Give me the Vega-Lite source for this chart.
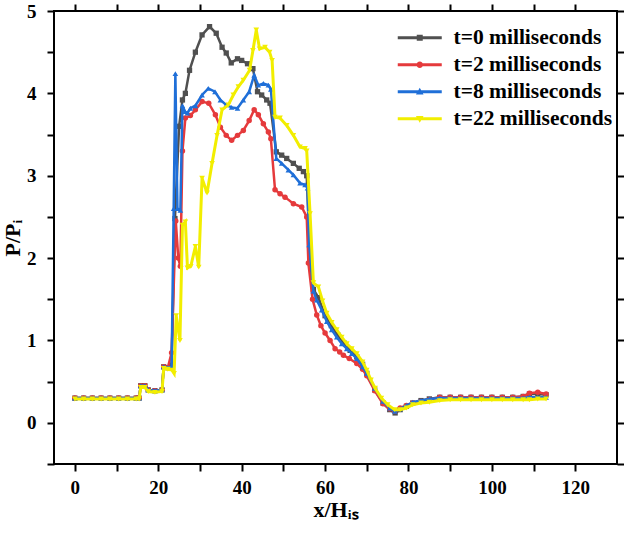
{
  "$schema": "https://vega.github.io/schema/vega-lite/v6.json",
  "width": 563,
  "height": 453,
  "autosize": {"type": "none"},
  "padding": {"left": 54, "top": 11, "right": 7, "bottom": 69},
  "background": "white",
  "config": {
    "view": {"stroke": "#000", "strokeWidth": 2},
    "axis": {"domain": false, "grid": false, "ticks": true, "tickColor": "#000", "tickWidth": 2, "tickSize": 7, "tickOpacity": 1,
      "labelFont": "Liberation Serif", "labelFontWeight": "bold", "labelFontSize": 19, "labelColor": "#000",
      "titleFont": "Liberation Serif", "titleFontWeight": "bold", "titleFontSize": 22, "titleColor": "#000"}
  },
  "datasets": {
    "d": [
      {"t":"t=0 milliseconds","x":0,"y":0.3},{"t":"t=0 milliseconds","x":2.1,"y":0.3},{"t":"t=0 milliseconds","x":4.2,"y":0.3},{"t":"t=0 milliseconds","x":6.3,"y":0.3},{"t":"t=0 milliseconds","x":8.4,"y":0.3},{"t":"t=0 milliseconds","x":10.5,"y":0.3},{"t":"t=0 milliseconds","x":12.6,"y":0.3},{"t":"t=0 milliseconds","x":14.7,"y":0.3},{"t":"t=0 milliseconds","x":15.4,"y":0.3},{"t":"t=0 milliseconds","x":15.8,"y":0.45},{"t":"t=0 milliseconds","x":16.8,"y":0.45},{"t":"t=0 milliseconds","x":17.6,"y":0.4},{"t":"t=0 milliseconds","x":19.2,"y":0.39},{"t":"t=0 milliseconds","x":20.9,"y":0.4},{"t":"t=0 milliseconds","x":21.3,"y":0.68},{"t":"t=0 milliseconds","x":22.3,"y":0.67},{"t":"t=0 milliseconds","x":23.2,"y":0.7},{"t":"t=0 milliseconds","x":24,"y":2.48},{"t":"t=0 milliseconds","x":25,"y":3.6},{"t":"t=0 milliseconds","x":25.8,"y":3.92},{"t":"t=0 milliseconds","x":26.5,"y":4.0},{"t":"t=0 milliseconds","x":27.5,"y":4.28},{"t":"t=0 milliseconds","x":28.9,"y":4.5},{"t":"t=0 milliseconds","x":30.5,"y":4.71},{"t":"t=0 milliseconds","x":32.3,"y":4.81},{"t":"t=0 milliseconds","x":33.9,"y":4.73},{"t":"t=0 milliseconds","x":35.3,"y":4.56},{"t":"t=0 milliseconds","x":36.3,"y":4.49},{"t":"t=0 milliseconds","x":37.5,"y":4.37},{"t":"t=0 milliseconds","x":39,"y":4.42},{"t":"t=0 milliseconds","x":40,"y":4.4},{"t":"t=0 milliseconds","x":41.4,"y":4.36},{"t":"t=0 milliseconds","x":42.7,"y":4.3},{"t":"t=0 milliseconds","x":43.8,"y":4.02},{"t":"t=0 milliseconds","x":44.8,"y":3.98},{"t":"t=0 milliseconds","x":46,"y":3.92},{"t":"t=0 milliseconds","x":46.8,"y":3.88},{"t":"t=0 milliseconds","x":48.3,"y":3.29},{"t":"t=0 milliseconds","x":49.6,"y":3.25},{"t":"t=0 milliseconds","x":50.8,"y":3.21},{"t":"t=0 milliseconds","x":52.4,"y":3.15},{"t":"t=0 milliseconds","x":53.8,"y":3.09},{"t":"t=0 milliseconds","x":54.8,"y":3.05},{"t":"t=0 milliseconds","x":55.6,"y":3.0},{"t":"t=0 milliseconds","x":56.4,"y":1.97},{"t":"t=0 milliseconds","x":57.2,"y":1.62},{"t":"t=0 milliseconds","x":58.4,"y":1.52},{"t":"t=0 milliseconds","x":60,"y":1.3},{"t":"t=0 milliseconds","x":61.5,"y":1.18},{"t":"t=0 milliseconds","x":63,"y":1.07},{"t":"t=0 milliseconds","x":64.5,"y":0.97},{"t":"t=0 milliseconds","x":66,"y":0.88},{"t":"t=0 milliseconds","x":67.6,"y":0.8},{"t":"t=0 milliseconds","x":69,"y":0.71},{"t":"t=0 milliseconds","x":70,"y":0.6},{"t":"t=0 milliseconds","x":71.9,"y":0.4},{"t":"t=0 milliseconds","x":73.9,"y":0.24},{"t":"t=0 milliseconds","x":75.5,"y":0.16},{"t":"t=0 milliseconds","x":76.8,"y":0.12},{"t":"t=0 milliseconds","x":78,"y":0.16},{"t":"t=0 milliseconds","x":79.5,"y":0.2},{"t":"t=0 milliseconds","x":81,"y":0.24},{"t":"t=0 milliseconds","x":83,"y":0.27},{"t":"t=0 milliseconds","x":85,"y":0.29},{"t":"t=0 milliseconds","x":87.5,"y":0.31},{"t":"t=0 milliseconds","x":90,"y":0.31},{"t":"t=0 milliseconds","x":92.5,"y":0.31},{"t":"t=0 milliseconds","x":95,"y":0.31},{"t":"t=0 milliseconds","x":97.5,"y":0.31},{"t":"t=0 milliseconds","x":100,"y":0.31},{"t":"t=0 milliseconds","x":102.5,"y":0.31},{"t":"t=0 milliseconds","x":105,"y":0.31},{"t":"t=0 milliseconds","x":107.5,"y":0.32},{"t":"t=0 milliseconds","x":109,"y":0.35},{"t":"t=0 milliseconds","x":111,"y":0.35},{"t":"t=0 milliseconds","x":113,"y":0.34},

      {"t":"t=2 milliseconds","x":0,"y":0.3},{"t":"t=2 milliseconds","x":2.1,"y":0.3},{"t":"t=2 milliseconds","x":4.2,"y":0.3},{"t":"t=2 milliseconds","x":6.3,"y":0.3},{"t":"t=2 milliseconds","x":8.4,"y":0.3},{"t":"t=2 milliseconds","x":10.5,"y":0.3},{"t":"t=2 milliseconds","x":12.6,"y":0.3},{"t":"t=2 milliseconds","x":14.7,"y":0.3},{"t":"t=2 milliseconds","x":15.4,"y":0.3},{"t":"t=2 milliseconds","x":15.8,"y":0.45},{"t":"t=2 milliseconds","x":16.8,"y":0.45},{"t":"t=2 milliseconds","x":17.6,"y":0.4},{"t":"t=2 milliseconds","x":19.2,"y":0.39},{"t":"t=2 milliseconds","x":20.9,"y":0.4},{"t":"t=2 milliseconds","x":21.3,"y":0.68},{"t":"t=2 milliseconds","x":22.3,"y":0.67},{"t":"t=2 milliseconds","x":23.2,"y":0.85},{"t":"t=2 milliseconds","x":24.2,"y":2.45},{"t":"t=2 milliseconds","x":24.8,"y":2.0},{"t":"t=2 milliseconds","x":25.3,"y":1.9},{"t":"t=2 milliseconds","x":25.8,"y":3.3},{"t":"t=2 milliseconds","x":26.5,"y":3.7},{"t":"t=2 milliseconds","x":27.7,"y":3.73},{"t":"t=2 milliseconds","x":28.9,"y":3.8},{"t":"t=2 milliseconds","x":30.5,"y":3.9},{"t":"t=2 milliseconds","x":32.1,"y":3.88},{"t":"t=2 milliseconds","x":33.7,"y":3.74},{"t":"t=2 milliseconds","x":34.9,"y":3.59},{"t":"t=2 milliseconds","x":36.3,"y":3.49},{"t":"t=2 milliseconds","x":37.6,"y":3.43},{"t":"t=2 milliseconds","x":39,"y":3.49},{"t":"t=2 milliseconds","x":40.4,"y":3.55},{"t":"t=2 milliseconds","x":41.8,"y":3.67},{"t":"t=2 milliseconds","x":43,"y":3.8},{"t":"t=2 milliseconds","x":44,"y":3.74},{"t":"t=2 milliseconds","x":45.2,"y":3.63},{"t":"t=2 milliseconds","x":46.4,"y":3.53},{"t":"t=2 milliseconds","x":47,"y":3.45},{"t":"t=2 milliseconds","x":48,"y":2.83},{"t":"t=2 milliseconds","x":49.2,"y":2.78},{"t":"t=2 milliseconds","x":50.4,"y":2.74},{"t":"t=2 milliseconds","x":52.4,"y":2.66},{"t":"t=2 milliseconds","x":54.4,"y":2.62},{"t":"t=2 milliseconds","x":55.6,"y":2.5},{"t":"t=2 milliseconds","x":56,"y":1.94},{"t":"t=2 milliseconds","x":57,"y":1.5},{"t":"t=2 milliseconds","x":58,"y":1.31},{"t":"t=2 milliseconds","x":59,"y":1.18},{"t":"t=2 milliseconds","x":60,"y":1.09},{"t":"t=2 milliseconds","x":61.2,"y":1.0},{"t":"t=2 milliseconds","x":62.4,"y":0.9},{"t":"t=2 milliseconds","x":63.5,"y":0.86},{"t":"t=2 milliseconds","x":64.4,"y":0.82},{"t":"t=2 milliseconds","x":65.8,"y":0.78},{"t":"t=2 milliseconds","x":67.6,"y":0.72},{"t":"t=2 milliseconds","x":69,"y":0.65},{"t":"t=2 milliseconds","x":70,"y":0.57},{"t":"t=2 milliseconds","x":71.9,"y":0.39},{"t":"t=2 milliseconds","x":73.9,"y":0.23},{"t":"t=2 milliseconds","x":75.5,"y":0.17},{"t":"t=2 milliseconds","x":76.7,"y":0.14},{"t":"t=2 milliseconds","x":78,"y":0.18},{"t":"t=2 milliseconds","x":79.5,"y":0.21},{"t":"t=2 milliseconds","x":81,"y":0.24},{"t":"t=2 milliseconds","x":83,"y":0.26},{"t":"t=2 milliseconds","x":85,"y":0.28},{"t":"t=2 milliseconds","x":87.5,"y":0.31},{"t":"t=2 milliseconds","x":90,"y":0.31},{"t":"t=2 milliseconds","x":92.5,"y":0.31},{"t":"t=2 milliseconds","x":95,"y":0.31},{"t":"t=2 milliseconds","x":97.5,"y":0.31},{"t":"t=2 milliseconds","x":100,"y":0.31},{"t":"t=2 milliseconds","x":102.5,"y":0.31},{"t":"t=2 milliseconds","x":105,"y":0.31},{"t":"t=2 milliseconds","x":107.5,"y":0.32},{"t":"t=2 milliseconds","x":109,"y":0.36},{"t":"t=2 milliseconds","x":111,"y":0.37},{"t":"t=2 milliseconds","x":113,"y":0.35},

      {"t":"t=8 milliseconds","x":0,"y":0.3},{"t":"t=8 milliseconds","x":2.1,"y":0.3},{"t":"t=8 milliseconds","x":4.2,"y":0.3},{"t":"t=8 milliseconds","x":6.3,"y":0.3},{"t":"t=8 milliseconds","x":8.4,"y":0.3},{"t":"t=8 milliseconds","x":10.5,"y":0.3},{"t":"t=8 milliseconds","x":12.6,"y":0.3},{"t":"t=8 milliseconds","x":14.7,"y":0.3},{"t":"t=8 milliseconds","x":15.4,"y":0.3},{"t":"t=8 milliseconds","x":15.8,"y":0.45},{"t":"t=8 milliseconds","x":16.8,"y":0.45},{"t":"t=8 milliseconds","x":17.6,"y":0.4},{"t":"t=8 milliseconds","x":19.2,"y":0.39},{"t":"t=8 milliseconds","x":20.9,"y":0.4},{"t":"t=8 milliseconds","x":21.3,"y":0.68},{"t":"t=8 milliseconds","x":22.3,"y":0.67},{"t":"t=8 milliseconds","x":23.2,"y":0.68},{"t":"t=8 milliseconds","x":23.7,"y":2.6},{"t":"t=8 milliseconds","x":24.1,"y":4.24},{"t":"t=8 milliseconds","x":24.6,"y":2.6},{"t":"t=8 milliseconds","x":25.3,"y":2.58},{"t":"t=8 milliseconds","x":25.8,"y":3.85},{"t":"t=8 milliseconds","x":26.4,"y":3.78},{"t":"t=8 milliseconds","x":27,"y":3.76},{"t":"t=8 milliseconds","x":27.7,"y":3.82},{"t":"t=8 milliseconds","x":28.9,"y":3.85},{"t":"t=8 milliseconds","x":30.5,"y":3.98},{"t":"t=8 milliseconds","x":32,"y":4.06},{"t":"t=8 milliseconds","x":33.6,"y":4.02},{"t":"t=8 milliseconds","x":34.9,"y":3.92},{"t":"t=8 milliseconds","x":36.3,"y":3.86},{"t":"t=8 milliseconds","x":37.6,"y":3.83},{"t":"t=8 milliseconds","x":39,"y":3.82},{"t":"t=8 milliseconds","x":40.4,"y":3.92},{"t":"t=8 milliseconds","x":41.8,"y":4.02},{"t":"t=8 milliseconds","x":43,"y":4.22},{"t":"t=8 milliseconds","x":44,"y":4.1},{"t":"t=8 milliseconds","x":45.2,"y":4.12},{"t":"t=8 milliseconds","x":46.4,"y":4.1},{"t":"t=8 milliseconds","x":47,"y":4.05},{"t":"t=8 milliseconds","x":48.3,"y":3.21},{"t":"t=8 milliseconds","x":49.6,"y":3.15},{"t":"t=8 milliseconds","x":51.2,"y":3.07},{"t":"t=8 milliseconds","x":52.4,"y":3.01},{"t":"t=8 milliseconds","x":54,"y":2.91},{"t":"t=8 milliseconds","x":55.2,"y":2.89},{"t":"t=8 milliseconds","x":55.8,"y":2.85},{"t":"t=8 milliseconds","x":56.2,"y":2.16},{"t":"t=8 milliseconds","x":57.2,"y":1.6},{"t":"t=8 milliseconds","x":58,"y":1.49},{"t":"t=8 milliseconds","x":59.2,"y":1.37},{"t":"t=8 milliseconds","x":60.4,"y":1.23},{"t":"t=8 milliseconds","x":61.6,"y":1.13},{"t":"t=8 milliseconds","x":62.8,"y":1.04},{"t":"t=8 milliseconds","x":64,"y":0.96},{"t":"t=8 milliseconds","x":65.2,"y":0.9},{"t":"t=8 milliseconds","x":66.4,"y":0.84},{"t":"t=8 milliseconds","x":67.6,"y":0.78},{"t":"t=8 milliseconds","x":69,"y":0.68},{"t":"t=8 milliseconds","x":70,"y":0.6},{"t":"t=8 milliseconds","x":71.9,"y":0.42},{"t":"t=8 milliseconds","x":73.9,"y":0.26},{"t":"t=8 milliseconds","x":75.5,"y":0.18},{"t":"t=8 milliseconds","x":76.7,"y":0.14},{"t":"t=8 milliseconds","x":78,"y":0.17},{"t":"t=8 milliseconds","x":79.5,"y":0.21},{"t":"t=8 milliseconds","x":81,"y":0.25},{"t":"t=8 milliseconds","x":83,"y":0.27},{"t":"t=8 milliseconds","x":85,"y":0.29},{"t":"t=8 milliseconds","x":87.5,"y":0.3},{"t":"t=8 milliseconds","x":90,"y":0.3},{"t":"t=8 milliseconds","x":92.5,"y":0.3},{"t":"t=8 milliseconds","x":95,"y":0.3},{"t":"t=8 milliseconds","x":97.5,"y":0.3},{"t":"t=8 milliseconds","x":100,"y":0.3},{"t":"t=8 milliseconds","x":102.5,"y":0.3},{"t":"t=8 milliseconds","x":105,"y":0.3},{"t":"t=8 milliseconds","x":107.5,"y":0.3},{"t":"t=8 milliseconds","x":109,"y":0.31},{"t":"t=8 milliseconds","x":111,"y":0.31},{"t":"t=8 milliseconds","x":113,"y":0.31},

      {"t":"t=22 milliseconds","x":0,"y":0.29},{"t":"t=22 milliseconds","x":2.1,"y":0.29},{"t":"t=22 milliseconds","x":4.2,"y":0.29},{"t":"t=22 milliseconds","x":6.3,"y":0.29},{"t":"t=22 milliseconds","x":8.4,"y":0.29},{"t":"t=22 milliseconds","x":10.5,"y":0.29},{"t":"t=22 milliseconds","x":12.6,"y":0.29},{"t":"t=22 milliseconds","x":14.7,"y":0.29},{"t":"t=22 milliseconds","x":15.4,"y":0.29},{"t":"t=22 milliseconds","x":15.8,"y":0.43},{"t":"t=22 milliseconds","x":16.8,"y":0.43},{"t":"t=22 milliseconds","x":17.6,"y":0.38},{"t":"t=22 milliseconds","x":19.2,"y":0.37},{"t":"t=22 milliseconds","x":20.9,"y":0.38},{"t":"t=22 milliseconds","x":21.3,"y":0.66},{"t":"t=22 milliseconds","x":22.3,"y":0.65},{"t":"t=22 milliseconds","x":23.3,"y":0.64},{"t":"t=22 milliseconds","x":23.8,"y":0.6},{"t":"t=22 milliseconds","x":24.3,"y":1.3},{"t":"t=22 milliseconds","x":25.2,"y":1.0},{"t":"t=22 milliseconds","x":25.8,"y":2.4},{"t":"t=22 milliseconds","x":26.5,"y":2.44},{"t":"t=22 milliseconds","x":27,"y":1.88},{"t":"t=22 milliseconds","x":27.8,"y":1.9},{"t":"t=22 milliseconds","x":28.9,"y":2.14},{"t":"t=22 milliseconds","x":29.7,"y":1.89},{"t":"t=22 milliseconds","x":30.5,"y":2.97},{"t":"t=22 milliseconds","x":31.7,"y":2.79},{"t":"t=22 milliseconds","x":32.9,"y":3.15},{"t":"t=22 milliseconds","x":34.1,"y":3.49},{"t":"t=22 milliseconds","x":35.3,"y":3.8},{"t":"t=22 milliseconds","x":36.8,"y":3.86},{"t":"t=22 milliseconds","x":38,"y":3.98},{"t":"t=22 milliseconds","x":39.2,"y":4.08},{"t":"t=22 milliseconds","x":40.4,"y":4.16},{"t":"t=22 milliseconds","x":41.9,"y":4.28},{"t":"t=22 milliseconds","x":42.7,"y":4.52},{"t":"t=22 milliseconds","x":43.5,"y":4.77},{"t":"t=22 milliseconds","x":44.3,"y":4.54},{"t":"t=22 milliseconds","x":45.6,"y":4.56},{"t":"t=22 milliseconds","x":46.7,"y":4.5},{"t":"t=22 milliseconds","x":47.3,"y":4.4},{"t":"t=22 milliseconds","x":48,"y":3.71},{"t":"t=22 milliseconds","x":49.2,"y":3.7},{"t":"t=22 milliseconds","x":50.8,"y":3.61},{"t":"t=22 milliseconds","x":52.4,"y":3.49},{"t":"t=22 milliseconds","x":54,"y":3.35},{"t":"t=22 milliseconds","x":55.2,"y":3.33},{"t":"t=22 milliseconds","x":55.6,"y":3.3},{"t":"t=22 milliseconds","x":56.4,"y":2.54},{"t":"t=22 milliseconds","x":57.2,"y":1.7},{"t":"t=22 milliseconds","x":58.4,"y":1.65},{"t":"t=22 milliseconds","x":59.4,"y":1.48},{"t":"t=22 milliseconds","x":60.4,"y":1.33},{"t":"t=22 milliseconds","x":61.6,"y":1.22},{"t":"t=22 milliseconds","x":62.8,"y":1.13},{"t":"t=22 milliseconds","x":64,"y":1.04},{"t":"t=22 milliseconds","x":65.2,"y":0.96},{"t":"t=22 milliseconds","x":66.4,"y":0.9},{"t":"t=22 milliseconds","x":67.6,"y":0.84},{"t":"t=22 milliseconds","x":69,"y":0.74},{"t":"t=22 milliseconds","x":70,"y":0.64},{"t":"t=22 milliseconds","x":71,"y":0.52},{"t":"t=22 milliseconds","x":72,"y":0.42},{"t":"t=22 milliseconds","x":73.5,"y":0.3},{"t":"t=22 milliseconds","x":75,"y":0.22},{"t":"t=22 milliseconds","x":76.7,"y":0.16},{"t":"t=22 milliseconds","x":78,"y":0.16},{"t":"t=22 milliseconds","x":79.5,"y":0.18},{"t":"t=22 milliseconds","x":81,"y":0.22},{"t":"t=22 milliseconds","x":83,"y":0.24},{"t":"t=22 milliseconds","x":85,"y":0.25},{"t":"t=22 milliseconds","x":87.5,"y":0.27},{"t":"t=22 milliseconds","x":90,"y":0.28},{"t":"t=22 milliseconds","x":92.5,"y":0.28},{"t":"t=22 milliseconds","x":95,"y":0.28},{"t":"t=22 milliseconds","x":97.5,"y":0.28},{"t":"t=22 milliseconds","x":100,"y":0.28},{"t":"t=22 milliseconds","x":102.5,"y":0.28},{"t":"t=22 milliseconds","x":105,"y":0.28},{"t":"t=22 milliseconds","x":107.5,"y":0.28},{"t":"t=22 milliseconds","x":109,"y":0.28},{"t":"t=22 milliseconds","x":111,"y":0.29},{"t":"t=22 milliseconds","x":113,"y":0.29}
    ]
  },
  "data": {"name": "d"},
  "resolve": {"axis": {"x": "independent", "y": "independent"}},
  "layer": [
    {
      "encoding": {
        "x": {"field": "x", "type": "quantitative", "scale": {"domain": [-5, 130], "nice": false, "zero": false},
          "axis": {"orient": "bottom", "values": [0,10,20,30,40,50,60,70,80,90,100,110,120],
            "labelExpr": "datum.value % 20 === 0 ? format(datum.value, 'd') : ''", "labelPadding": 7, "labelBaseline": "top",
            "title": "x/Hᵢₛ", "titlePadding": 2,
            "encode": {"ticks": {"update": {"y2": {"signal": "datum.value % 20 === 0 ? -7 : -4"}}}}}},
        "y": {"field": "y", "type": "quantitative", "scale": {"domain": [-0.5, 5], "nice": false, "zero": false},
          "axis": {"orient": "left", "values": [-0.5,0,0.5,1,1.5,2,2.5,3,3.5,4,4.5,5],
            "labelExpr": "datum.value % 1 === 0 ? format(datum.value, 'd') : ''", "labelPadding": 11,
            "title": "P/Pᵢ", "titlePadding": 2,
            "encode": {"ticks": {"update": {"x2": {"signal": "datum.value % 1 === 0 ? 7 : 4"}}}}}},
        "color": {"field": "t", "type": "nominal",
          "scale": {"domain": ["t=0 milliseconds","t=2 milliseconds","t=8 milliseconds","t=22 milliseconds"],
            "range": ["#505050","#e53a3c","#1f6fd8","#f2ee00"]},
          "legend": {"orient": "none", "legendX": 355, "legendY": 16, "title": null, "padding": 0,
            "symbolSize": 400, "rowPadding": 4, "labelOffset": 23,
            "labelFont": "Liberation Serif", "labelFontWeight": "bold", "labelFontSize": 21.5, "labelColor": "#000", "labelLimit": 400,
            "encode": {"symbols": {"update": {
              "shape": {"signal": "datum.value === 't=0 milliseconds' ? 'M-2.2,-0.14H2.2V0.14H-2.2Z M-0.3,-0.3H0.3V0.3H-0.3Z' : datum.value === 't=2 milliseconds' ? 'M-2.2,-0.14H2.2V0.14H-2.2Z M0.33,0A0.33,0.33 0 1,1 -0.33,0A0.33,0.33 0 1,1 0.33,0Z' : datum.value === 't=8 milliseconds' ? 'M-2.2,-0.14H2.2V0.14H-2.2Z M0,-0.4L0.38,0.27H-0.38Z' : 'M-2.2,-0.14H2.2V0.14H-2.2Z M0,0.4L-0.38,-0.27H0.38Z'"},
              "fill": {"scale": "color", "field": "value"},
              "fillOpacity": {"value": 1},
              "strokeWidth": {"value": 0}
            }}}}
        }
      },
      "layer": [
        {"transform": [{"filter": "datum.t === 't=0 milliseconds'"}], "mark": {"type": "line", "strokeWidth": 2.5}},
        {"transform": [{"filter": "datum.t === 't=0 milliseconds'"}], "mark": {"type": "point", "shape": "square", "filled": true, "size": 28, "opacity": 1}},
        {"transform": [{"filter": "datum.t === 't=2 milliseconds'"}], "mark": {"type": "line", "strokeWidth": 2.5}},
        {"transform": [{"filter": "datum.t === 't=2 milliseconds'"}], "mark": {"type": "point", "shape": "circle", "filled": true, "size": 30, "opacity": 1}},
        {"transform": [{"filter": "datum.t === 't=8 milliseconds'"}], "mark": {"type": "line", "strokeWidth": 2.5}},
        {"transform": [{"filter": "datum.t === 't=8 milliseconds'"}], "mark": {"type": "point", "shape": "triangle-up", "filled": true, "size": 32, "opacity": 1}},
        {"transform": [{"filter": "datum.t === 't=22 milliseconds'"}], "mark": {"type": "line", "strokeWidth": 3}},
        {"transform": [{"filter": "datum.t === 't=22 milliseconds'"}], "mark": {"type": "point", "shape": "triangle-down", "filled": true, "size": 32, "opacity": 1}}
      ]
    },
    {
      "mark": {"type": "point", "opacity": 0},
      "encoding": {
        "x": {"field": "x", "type": "quantitative", "scale": {"domain": [-5, 130], "nice": false, "zero": false},
          "axis": {"orient": "top", "values": [0,10,20,30,40,50,60,70,80,90,100,110,120], "labels": false, "title": null,
            "encode": {"ticks": {"update": {"y2": {"signal": "datum.value % 20 === 0 ? 7 : 4"}}}}}},
        "y": {"field": "y", "type": "quantitative", "scale": {"domain": [-0.5, 5], "nice": false, "zero": false},
          "axis": {"orient": "right", "values": [-0.5,0,0.5,1,1.5,2,2.5,3,3.5,4,4.5,5], "labels": false, "title": null,
            "encode": {"ticks": {"update": {"x2": {"signal": "datum.value % 1 === 0 ? -7 : -4"}}}}}}
      }
    }
  ]
}
